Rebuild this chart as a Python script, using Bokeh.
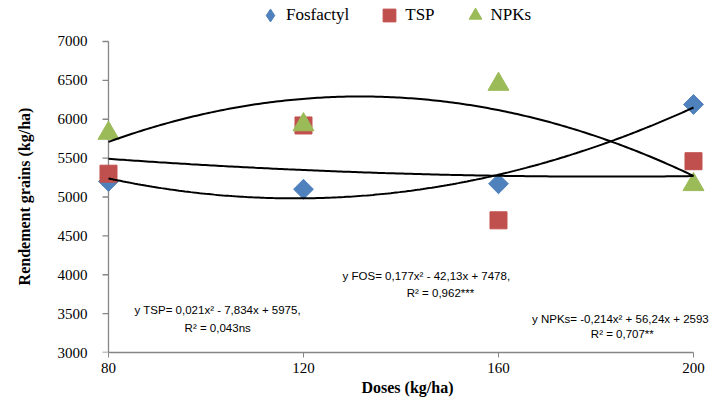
import numpy as np
from bokeh.plotting import figure
from bokeh.models import Range1d, FixedTicker, Label, Legend, LegendItem
from bokeh.embed import file_html
from bokeh.resources import INLINE

# ---- data ----
doses = [80, 120, 160, 200]
fosfactyl = [5200, 5100, 5170, 6190]
tsp = [5300, 5920, 4700, 5460]
npks = [5820, 5930, 6450, 5160]
y_ticks = [3000, 3500, 4000, 4500, 5000, 5500, 6000, 6500, 7000]
x_ticks = [80, 120, 160, 200]
series_names = ["Fosfactyl", "TSP", "NPKs"]
eq_tsp = ["y TSP= 0,021x\u00b2 - 7,834x + 5975,", "R\u00b2 = 0,043ns"]
eq_fos = ["y FOS= 0,177x\u00b2 - 42,13x + 7478,", "R\u00b2 = 0,962***"]
eq_npk = ["y NPKs= -0,214x\u00b2 + 56,24x + 2593", "R\u00b2 = 0,707**"]

AX = "#868686"
BLUE, RED, GREEN = "#4F81BD", "#C0504D", "#9BBB59"
SERIF = "Liberation Serif"
SANS = "Liberation Sans"

# frame spans the full top of the canvas so the legend (drawn inside it) is not clipped
p = figure(width=719, height=408, output_backend="svg", toolbar_location=None,
           x_range=Range1d(77.54, 205.13), y_range=Range1d(3000, 7527.3),
           min_border_left=96, min_border_right=1, min_border_top=0, min_border_bottom=56)
p.xgrid.visible = False
p.ygrid.visible = False
p.outline_line_color = None
p.background_fill_color = "white"
p.border_fill_color = "white"

# x axis
xa = p.xaxis[0]
xa.ticker = FixedTicker(ticks=x_ticks)
xa.bounds = (doses[0], doses[-1])
xa.axis_line_color = AX
xa.axis_line_width = 1.3
xa.major_tick_line_color = AX
xa.major_tick_out = 5
xa.major_tick_in = 0
xa.minor_tick_line_color = None
xa.major_label_text_font = SERIF
xa.major_label_text_font_size = "15px"
xa.major_label_text_color = "black"
xa.major_label_standoff = 5
xa.axis_label = "Doses (kg/ha)"
xa.axis_label_text_font = SERIF
xa.axis_label_text_font_size = "16px"
xa.axis_label_text_font_style = "bold"
xa.axis_label_text_color = "black"
xa.axis_label_standoff = 3

# y axis (labels only; line and ticks drawn at x=80)
ya = p.yaxis[0]
ya.ticker = FixedTicker(ticks=y_ticks)
ya.axis_line_color = None
ya.major_tick_line_color = None
ya.minor_tick_line_color = None
ya.major_label_text_font = SERIF
ya.major_label_text_font_size = "15px"
ya.major_label_text_color = "black"
ya.major_label_standoff = 3
ya.axis_label = "Rendement grains (kg/ha)" + "\u00a0" * 10
ya.axis_label_text_font = SERIF
ya.axis_label_text_font_size = "16px"
ya.axis_label_text_font_style = "bold"
ya.axis_label_text_color = "black"
ya.axis_label_standoff = 22

p.segment(x0=[doses[0]], y0=[y_ticks[0]], x1=[doses[0]], y1=[y_ticks[-1]],
          line_color=AX, line_width=1.3)
p.ray(x=[doses[0]] * len(y_ticks), y=y_ticks, length=6, length_units="screen",
      angle=np.pi, line_color=AX, line_width=1.3)

# markers
# diamond glyph (hidden under the rotated square) used for the legend entry,
# because the legend ignores marker angle
r1_leg = p.scatter(doses, fosfactyl, marker="diamond", size=19, fill_color=BLUE, line_color=BLUE)
p.scatter(doses, fosfactyl, marker="square", angle=np.pi / 4, size=14,
          fill_color=BLUE, line_color=BLUE)
r2 = p.scatter(doses, tsp, marker="square", size=17, fill_color=RED, line_color=RED)
r3 = p.scatter(doses, npks, marker="triangle", size=21, fill_color=GREEN, line_color=GREEN)

# polynomial trend lines (order 2), fitted to the plotted points
xs = np.linspace(doses[0], doses[-1], 200)
for vals in (fosfactyl, tsp, npks):
    coef = np.polyfit(doses, vals, 2)
    p.line(xs, np.polyval(coef, xs), line_color="black", line_width=2)

legend = Legend(items=[LegendItem(label=series_names[0], renderers=[r1_leg]),
                       LegendItem(label=series_names[1], renderers=[r2]),
                       LegendItem(label=series_names[2], renderers=[r3])],
                location=(158, 321), orientation="horizontal",
                glyph_width=32, glyph_height=32, label_standoff=-7, spacing=24,
                padding=0, margin=0, border_line_color=None, background_fill_alpha=0,
                label_text_font=SERIF, label_text_font_size="17px", label_text_color="black")
p.add_layout(legend)

def add_eq(lines, x1, y1, x2, y2):
    p.add_layout(Label(x=x1, y=y1, text=lines[0], text_align="center", text_baseline="middle",
                       text_font=SANS, text_font_size="11.5px", text_color="black"))
    p.add_layout(Label(x=x2, y=y2, text=lines[1], text_align="center", text_baseline="middle",
                       text_font=SANS, text_font_size="11.5px", text_color="black"))

add_eq(eq_tsp, 102.4, 3553, 102.4, 3321)
add_eq(eq_fos, 145.2, 3990, 148.1, 3759)
add_eq(eq_npk, 185.0, 3437, 185.4, 3244)

open("out.html", "w").write(file_html(p, INLINE))
